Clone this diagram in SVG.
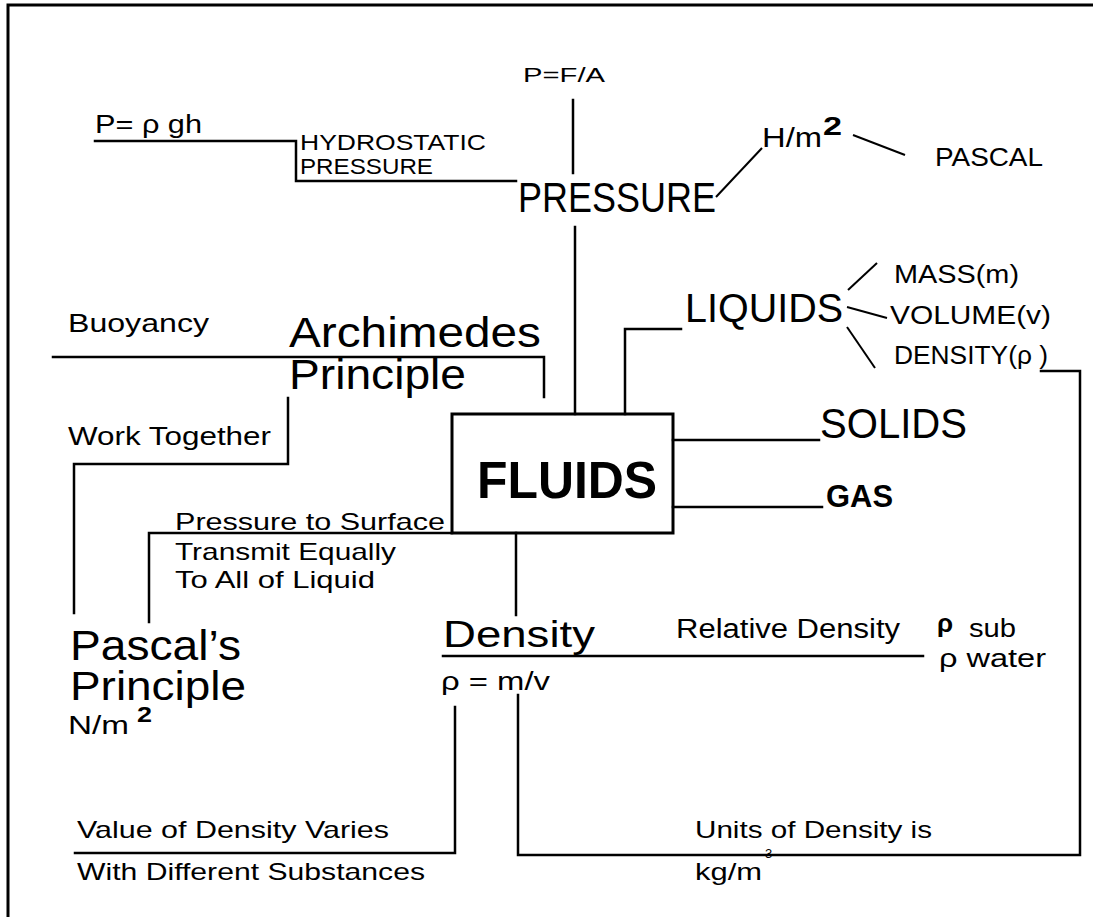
<svg xmlns="http://www.w3.org/2000/svg" width="1093" height="917" viewBox="0 0 1093 917">
<style>
text{font-family:"Liberation Sans",Arial,sans-serif;fill:#000;}
.ln{fill:none;stroke:#000;stroke-width:2.5;stroke-linecap:square;}
.thin{fill:none;stroke:#000;stroke-width:2;}
.frame{fill:none;stroke:#000;stroke-width:3;}
.b{font-weight:bold;}
</style>
<rect x="0" y="0" width="1093" height="917" fill="#fff"/>
<path class="frame" d="M8,917 V5 H1093"/>
<g id="connectors">
<path class="ln" d="M573,100 V173"/>
<path class="ln" d="M95,141 H296 V181 H516"/>
<path class="ln" d="M575,227 V414"/>
<path class="thin" d="M716,197 L762,148"/>
<path class="thin" d="M853,135 L905,155"/>
<path class="ln" d="M625,414 V329 H681"/>
<path class="thin" d="M848,290 L877,263"/>
<path class="thin" d="M847,307 L887,318"/>
<path class="thin" d="M847,327 L875,368"/>
<path class="ln" d="M1041,371 H1080 V855 H518 V695"/>
<path class="ln" d="M673,440 H819"/>
<path class="ln" d="M673,507 H822"/>
<path class="ln" d="M53,357 H544 V397"/>
<path class="ln" d="M288,398 V464 H74 V613"/>
<path class="ln" d="M452,533 H149 V622"/>
<path class="ln" d="M516,533 V615"/>
<path class="ln" d="M443,656 H923"/>
<path class="ln" d="M455,707 V853 H75"/>
</g>
<g id="fluids">
<rect x="452" y="414" width="221" height="119" fill="none" stroke="#000" stroke-width="3"/>
<text class="b" x="477" y="498" font-size="52" textLength="180" lengthAdjust="spacingAndGlyphs">FLUIDS</text>
</g>
<g id="pfa"><text x="523" y="82" font-size="20" textLength="82" lengthAdjust="spacingAndGlyphs">P=F/A</text></g>
<g id="prgh"><text x="95" y="133" font-size="25" textLength="107" lengthAdjust="spacingAndGlyphs">P= ρ gh</text></g>
<g id="hydrostatic">
<text x="300" y="150" font-size="22" textLength="186" lengthAdjust="spacingAndGlyphs">HYDROSTATIC</text>
<text x="300" y="174" font-size="22" textLength="133" lengthAdjust="spacingAndGlyphs">PRESSURE</text>
</g>
<g id="pressure"><text x="518" y="212" font-size="42" textLength="198" lengthAdjust="spacingAndGlyphs">PRESSURE</text></g>
<g id="hm2">
<text x="762" y="147" font-size="27" textLength="60" lengthAdjust="spacingAndGlyphs">H/m</text>
<text class="b" x="823" y="135" font-size="25" textLength="19" lengthAdjust="spacingAndGlyphs">2</text>
</g>
<g id="pascal"><text x="935" y="166" font-size="26" textLength="108" lengthAdjust="spacingAndGlyphs">PASCAL</text></g>
<g id="liquids"><text x="685" y="322" font-size="40" textLength="158" lengthAdjust="spacingAndGlyphs">LIQUIDS</text></g>
<g id="mass"><text x="894" y="283" font-size="26" textLength="125" lengthAdjust="spacingAndGlyphs">MASS(m)</text></g>
<g id="volume"><text x="890" y="324" font-size="26" textLength="161" lengthAdjust="spacingAndGlyphs">VOLUME(v)</text></g>
<g id="densityrho"><text x="894" y="364" font-size="26" textLength="154" lengthAdjust="spacingAndGlyphs">DENSITY(ρ )</text></g>
<g id="solids"><text x="820" y="438" font-size="42" textLength="147" lengthAdjust="spacingAndGlyphs">SOLIDS</text></g>
<g id="gas"><text class="b" x="826" y="507" font-size="32" textLength="67" lengthAdjust="spacingAndGlyphs">GAS</text></g>
<g id="buoyancy"><text x="68" y="332" font-size="25" textLength="141" lengthAdjust="spacingAndGlyphs">Buoyancy</text></g>
<g id="archimedes">
<text x="289" y="347" font-size="42" textLength="252" lengthAdjust="spacingAndGlyphs">Archimedes</text>
<text x="289" y="389" font-size="42" textLength="177" lengthAdjust="spacingAndGlyphs">Principle</text>
</g>
<g id="worktogether"><text x="68" y="445" font-size="25" textLength="203" lengthAdjust="spacingAndGlyphs">Work Together</text></g>
<g id="transmit">
<text x="175" y="530" font-size="24" textLength="270" lengthAdjust="spacingAndGlyphs">Pressure to Surface</text>
<text x="175" y="560" font-size="24" textLength="221" lengthAdjust="spacingAndGlyphs">Transmit Equally</text>
<text x="175" y="588" font-size="24" textLength="200" lengthAdjust="spacingAndGlyphs">To All of Liquid</text>
</g>
<g id="pascalsprinciple">
<text x="70" y="660" font-size="42" textLength="171" lengthAdjust="spacingAndGlyphs">Pascal’s</text>
<text x="70" y="700" font-size="40" textLength="176" lengthAdjust="spacingAndGlyphs">Principle</text>
<text x="68" y="734" font-size="26" textLength="61" lengthAdjust="spacingAndGlyphs">N/m</text>
<text class="b" x="137" y="722" font-size="22" textLength="15" lengthAdjust="spacingAndGlyphs">2</text>
</g>
<g id="density">
<text x="443" y="647" font-size="37" textLength="152" lengthAdjust="spacingAndGlyphs">Density</text>
<text x="441" y="690" font-size="26" textLength="109" lengthAdjust="spacingAndGlyphs">ρ = m/v</text>
</g>
<g id="relativedensity">
<text x="676" y="638" font-size="27" textLength="224" lengthAdjust="spacingAndGlyphs">Relative Density</text>
<text class="b" x="937" y="632" font-size="26">ρ</text>
<text x="969" y="637" font-size="26" textLength="47" lengthAdjust="spacingAndGlyphs">sub</text>
<text x="939" y="667" font-size="26" textLength="107" lengthAdjust="spacingAndGlyphs">ρ water</text>
</g>
<g id="varies">
<text x="77" y="838" font-size="24" textLength="312" lengthAdjust="spacingAndGlyphs">Value of Density Varies</text>
<text x="77" y="880" font-size="24" textLength="348" lengthAdjust="spacingAndGlyphs">With Different Substances</text>
</g>
<g id="units">
<text x="695" y="838" font-size="24" textLength="237" lengthAdjust="spacingAndGlyphs">Units of Density is</text>
<text x="695" y="880" font-size="24" textLength="67" lengthAdjust="spacingAndGlyphs">kg/m</text>
<text x="765" y="858" font-size="13">3</text>
</g>
</svg>
